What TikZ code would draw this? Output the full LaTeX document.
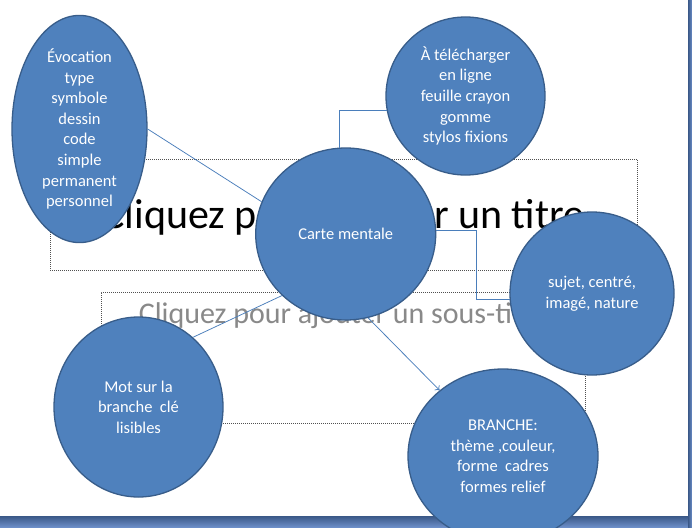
\documentclass[tikz,border=0pt]{standalone}
\usepackage{fontspec}
\setmainfont{Carlito}
\usetikzlibrary{shapes.geometric,arrows.meta}
\definecolor{bulle}{RGB}{79,129,189}
\definecolor{bord}{RGB}{56,93,138}
\definecolor{lien}{RGB}{74,126,187}
\definecolor{pointille}{RGB}{80,80,80}
\definecolor{gristexte}{RGB}{137,137,137}
\definecolor{cadre}{RGB}{58,88,135}
\definecolor{cadreclair}{RGB}{108,142,200}
\begin{document}
\begin{tikzpicture}[x=1pt,y=1pt,
bulle/.style={ellipse,draw=bord,fill=bulle,line width=1.3pt,text=white,align=center,font=\fontsize{16.5}{20.6}\selectfont},
lien/.style={draw=lien,line width=0.75pt},
gabarit/.style={draw=pointille,line width=0.6pt,dash pattern=on 1pt off 1pt}]
\tikzstyle{every node}+=[inner sep=0pt]
\useasboundingbox (0,0) rectangle (692,-527);
\shade [top color=cadre,bottom color=cadreclair] (0,-516) rectangle (692,-527);
\shade [left color=cadre,right color=cadreclair] (688,0) rectangle (692,-527);
\fill [white] (0,0) rectangle (688,-516);
\node [gabarit,minimum width=587pt,minimum height=111pt] (zonetitre) at (343.5,-214.5) {};
\node [anchor=base,font=\fontsize{42}{50}\selectfont] (titre) at (343.5,-228) {Cliquez pour ajouter un titre};
\node [gabarit,minimum width=484pt,minimum height=131pt] (zonesoustitre) at (343,-357.5) {};
\node [anchor=base,text=gristexte,font=\fontsize{30}{36}\selectfont] (soustitre) at (343,-323) {Cliquez pour ajouter un sous-titre};
\node [bulle,minimum width=135pt,minimum height=202pt] (evocation) at (79.5,-129) {Évocation\\type\\symbole\\dessin\\code\\simple\\permanent\\personnel};
\node [bulle,minimum width=159pt,minimum height=158pt] (telecharger) at (465.5,-96) {À télécharger\\en ligne\\feuille crayon\\gomme\\stylos fixions};
\node [bulle,minimum width=180pt,minimum height=172pt] (carte) at (345.7,-234) {Carte mentale};
\node [bulle,minimum width=164pt,minimum height=163pt] (sujet) at (592,-293.5) {sujet, centré,\\imagé, nature};
\node [bulle,minimum width=190pt,minimum height=174pt] (branche) at (503,-456) {BRANCHE:\\thème ,couleur,\\forme\ \ cadres\\formes relief};
\node [bulle,minimum width=169pt,minimum height=180pt] (mot) at (138.5,-407) {Mot sur la\\branche\ \ clé\\lisibles};
\draw [lien] (evocation.east) -- (carte.159);
\draw [lien] (carte.94.5) |- (telecharger.190);
\draw [lien] (carte.2.5) -- ++(40,0) |- (sujet.184);
\draw [lien] (carte.224.9) -- (mot.52.5);
\draw [lien,-{To[length=4pt,width=7pt]}] (carte.-75.4) -- (branche.134);
\end{tikzpicture}
\end{document}
